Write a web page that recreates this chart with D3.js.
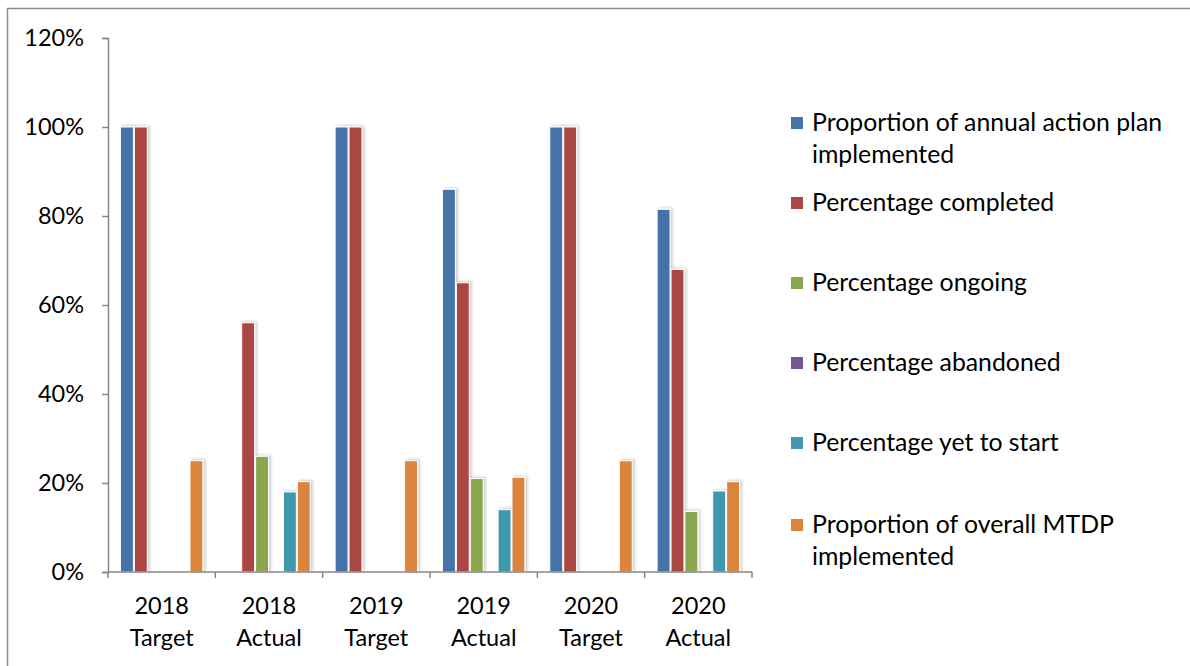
<!DOCTYPE html>
<html>
<head>
<meta charset="utf-8">
<script src="https://cdn.jsdelivr.net/npm/d3@7"></script>
<style>
  html, body { margin: 0; padding: 0; background: #fff; }
  svg { display: block; }
  text { font-family: Lato, "Open Sans", sans-serif; fill: #000; }
</style>
</head>
<body>
<svg id="chart" width="1190" height="666"></svg>
<script>
// Categories (two-line labels) and series
const categories = ["2018 Target", "2018 Actual", "2019 Target", "2019 Actual", "2020 Target", "2020 Actual"];
const categoryLines = [["2018", "Target"], ["2018", "Actual"], ["2019", "Target"], ["2019", "Actual"], ["2020", "Target"], ["2020", "Actual"]];

const seriesNames = [
  "Proportion of annual action plan implemented",
  "Percentage completed",
  "Percentage ongoing",
  "Percentage abandoned",
  "Percentage yet to start",
  "Proportion of overall MTDP implemented"
];
const legendLines = [
  ["Proportion of annual action plan", "implemented"],
  ["Percentage completed"],
  ["Percentage ongoing"],
  ["Percentage abandoned"],
  ["Percentage yet to start"],
  ["Proportion of overall MTDP", "implemented"]
];
const seriesColors = ["#4572A7", "#AA4643", "#89A54E", "#71588F", "#4198AF", "#DB843D"];

// Values in percent, one array per series, in category order
const annualPlan   = [100, 0, 100, 86, 100, 81.5];
const completed    = [100, 56, 100, 65, 100, 68];
const ongoing      = [0, 26, 0, 21, 0, 13.6];
const abandoned    = [0, 0, 0, 0, 0, 0];
const yetToStart   = [0, 18, 0, 14, 0, 18.2];
const overallMTDP  = [25, 20.3, 25, 21.3, 25, 20.3];
const seriesValues = [annualPlan, completed, ongoing, abandoned, yetToStart, overallMTDP];

const yTicks = [0, 20, 40, 60, 80, 100, 120];

const FONT = 23.5;
const svg = d3.select("#chart");

// Outer chart border
svg.append("rect")
  .attr("x", 7.5).attr("y", 8.5)
  .attr("width", 1300).attr("height", 800)
  .attr("fill", "none").attr("stroke", "#8a8a8a").attr("stroke-width", 1.5);

const defs = svg.append("defs");
const f = defs.append("filter").attr("id", "barShadow")
  .attr("x", "-80%").attr("y", "-10%").attr("width", "260%").attr("height", "120%");
f.append("feDropShadow").attr("dx", 2).attr("dy", -1).attr("stdDeviation", 1.8)
  .attr("flood-color", "#000").attr("flood-opacity", 0.2);

const plot = { left: 108, right: 752, top: 38, bottom: 572 };

const x0 = d3.scaleBand().domain(categories).range([plot.left, plot.right]).paddingInner(0).paddingOuter(0);
const x1 = d3.scaleBand().domain(d3.range(seriesNames.length))
  .range([0, x0.bandwidth()]).paddingInner(0).paddingOuter(0.86);
const y = d3.scaleLinear().domain([0, 120]).range([plot.bottom, plot.top]);

// Bars
const groups = svg.append("g").selectAll("g")
  .data(categories).join("g")
  .attr("transform", d => `translate(${x0(d)},0)`);

groups.selectAll("rect")
  .data((c, ci) => seriesValues.map((vals, si) => ({ si, v: vals[ci] })).filter(d => d.v > 0))
  .join("rect")
  .attr("x", d => x1(d.si) + 0.5)
  .attr("y", d => y(d.v))
  .attr("width", x1.bandwidth() - 1)
  .attr("height", d => y(0) - y(d.v))
  .attr("fill", d => seriesColors[d.si])
  .attr("stroke", "#fff")
  .attr("stroke-width", 1)
  .attr("filter", "url(#barShadow)");

// Y axis
const yAxis = d3.axisLeft(y).tickValues(yTicks).tickSize(6).tickPadding(18)
  .tickFormat(d => d + "%");
const gy = svg.append("g").attr("transform", `translate(${plot.left},0)`).call(yAxis);
gy.select(".domain").attr("stroke", "#868686").attr("stroke-width", 1.5);
gy.selectAll(".tick line").attr("stroke", "#868686").attr("stroke-width", 1.5);
gy.selectAll(".tick text").attr("font-size", FONT).attr("dy", "0.3em")
  .style("font-family", "Lato, sans-serif").attr("fill", "#000");

// X axis with ticks at category boundaries
const gx = svg.append("g").attr("transform", `translate(0,${plot.bottom})`);
gx.append("line").attr("x1", plot.left).attr("x2", plot.right)
  .attr("stroke", "#868686").attr("stroke-width", 1.5);
const boundaries = categories.map(c => x0(c)).concat([plot.right]);
gx.selectAll("line.tk").data(boundaries).join("line").attr("class", "tk")
  .attr("x1", d => d).attr("x2", d => d).attr("y1", 0).attr("y2", 6)
  .attr("stroke", "#868686").attr("stroke-width", 1.5);
gx.selectAll("text").data(categories).join("text")
  .attr("text-anchor", "middle")
  .attr("font-size", FONT)
  .attr("x", d => x0(d) + x0.bandwidth() / 2)
  .attr("y", 42)
  .selectAll("tspan").data((d, i) => categoryLines[i]).join("tspan")
  .attr("x", function() { return d3.select(this.parentNode).attr("x"); })
  .attr("dy", (d, i) => i === 0 ? 0 : 32)
  .text(d => d);

// Legend
const legendTop = [123, 203, 283, 363, 443, 525];
const legend = svg.append("g");
seriesNames.forEach((name, i) => {
  const g = legend.append("g").attr("transform", `translate(791,${legendTop[i]})`);
  g.append("rect").attr("x", 0).attr("y", -6).attr("width", 12).attr("height", 12)
    .attr("fill", seriesColors[i]);
  const t = g.append("text").attr("x", 21).attr("y", 8).attr("font-size", 24.8);
  legendLines[i].forEach((line, li) => {
    t.append("tspan").attr("x", 21).attr("dy", li === 0 ? 0 : 32).text(line);
  });
});
</script>
</body>
</html>
